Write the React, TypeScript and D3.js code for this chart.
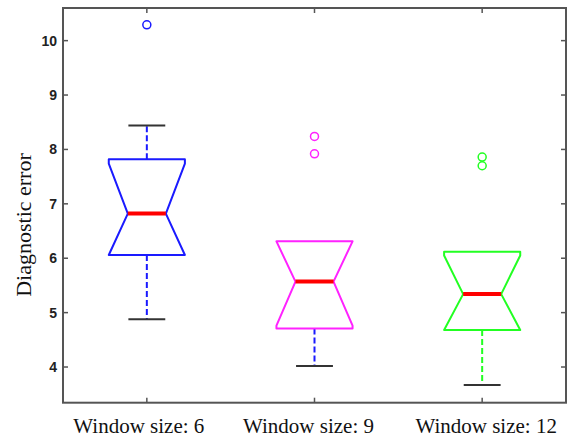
import React from "react";
import * as d3 from "d3";

const categories = ["Window size: 6", "Window size: 9", "Window size: 12"];
const q1 = [6.06, 4.71, 4.68];
const median = [6.82, 5.57, 5.34];
const q3 = [7.82, 6.31, 6.12];
const notchLo = [5.9, 4.76, 4.63];
const notchHi = [7.74, 6.38, 6.05];
const whiskerLo = [4.88, 4.02, 3.67];
const whiskerHi = [8.44, 6.31, 6.12];
const outliers = [[10.29], [8.24, 7.92], [7.86, 7.7]];
const boxColors = ["#1a1aff", "#ff22ff", "#22ff22"];
const whiskerColors = ["#1a1aff", "#1a1aff", "#22ff22"];
const yTicks = [4, 5, 6, 7, 8, 9, 10];
const labelOffsets = [-8, -6, 4];

const W = 570;
const H = 439;
const L = 63, R = 566, T = 8, B = 402.7;

export default function App() {
  const x = d3.scaleLinear().domain([0.5, 3.5]).range([L, R]);
  const y = d3.scaleLinear().domain([3.344, 10.6]).range([B, T]);
  const unit = x(2) - x(1);
  const half = unit * 0.227;
  const nHalf = half / 2;
  const capHalf = unit * 0.11;
  const tick = 5;
  const frame = "#555";

  return (
    <svg width={W} height={H} style={{ position: "absolute", left: 0, top: 0, background: "#fff" }}>
      {/* whiskers */}
      {categories.map((c, i) => {
        const cx = x(i + 1);
        return (
          <g key={"w" + c}>
            {whiskerHi[i] > q3[i] && (
              <line x1={cx} x2={cx} y1={y(q3[i])} y2={y(whiskerHi[i])} stroke={whiskerColors[i]} strokeWidth={2} strokeDasharray="6,3" />
            )}
            {whiskerLo[i] < q1[i] && (
              <line x1={cx} x2={cx} y1={y(q1[i])} y2={y(whiskerLo[i])} stroke={whiskerColors[i]} strokeWidth={2} strokeDasharray="6,3" />
            )}
            {whiskerHi[i] > q3[i] && (
              <line x1={cx - capHalf} x2={cx + capHalf} y1={y(whiskerHi[i])} y2={y(whiskerHi[i])} stroke="#333" strokeWidth={2} />
            )}
            <line x1={cx - capHalf} x2={cx + capHalf} y1={y(whiskerLo[i])} y2={y(whiskerLo[i])} stroke="#333" strokeWidth={2} />
          </g>
        );
      })}
      {/* boxes */}
      {categories.map((c, i) => {
        const cx = x(i + 1);
        const lo = Math.max(notchLo[i], q1[i]);
        const hi = Math.min(notchHi[i], q3[i]);
        const pts: [number, number][] = [
          [cx - half, y(q1[i])],
          [cx - half, y(lo)],
          [cx - nHalf, y(median[i])],
          [cx - half, y(hi)],
          [cx - half, y(q3[i])],
          [cx + half, y(q3[i])],
          [cx + half, y(hi)],
          [cx + nHalf, y(median[i])],
          [cx + half, y(lo)],
          [cx + half, y(q1[i])],
        ];
        const path = d3.line()(pts) + "Z";
        return (
          <g key={"b" + c}>
            <path d={path} fill="none" stroke={boxColors[i]} strokeWidth={2} strokeLinejoin="round" />
            <line x1={cx - nHalf} x2={cx + nHalf} y1={y(median[i])} y2={y(median[i])} stroke="#ff0000" strokeWidth={4} />
            {outliers[i].map((v, j) => (
              <circle key={j} cx={cx} cy={y(v)} r={4} fill="none" stroke={boxColors[i]} strokeWidth={1.5} />
            ))}
          </g>
        );
      })}
      {/* frame */}
      <rect x={L} y={T} width={R - L} height={B - T} fill="none" stroke={frame} strokeWidth={2} />
      {yTicks.map((t) => (
        <g key={"yt" + t}>
          <line x1={L} x2={L + tick} y1={y(t)} y2={y(t)} stroke={frame} strokeWidth={1.5} />
          <line x1={R} x2={R - tick} y1={y(t)} y2={y(t)} stroke={frame} strokeWidth={1.5} />
          <text x={L - 6} y={y(t)} dy="0.36em" textAnchor="end" fontFamily="Liberation Sans, Arial, sans-serif" fontWeight="bold" fontSize={14} fill="#222">
            {t}
          </text>
        </g>
      ))}
      {categories.map((c, i) => (
        <g key={"xt" + c}>
          <line x1={x(i + 1)} x2={x(i + 1)} y1={B} y2={B - tick} stroke={frame} strokeWidth={1.5} />
          <line x1={x(i + 1)} x2={x(i + 1)} y1={T} y2={T + tick} stroke={frame} strokeWidth={1.5} />
          <text x={x(i + 1) + labelOffsets[i]} y={432.5} textAnchor="middle" fontFamily="Liberation Serif, Times New Roman, serif" fontSize={21} fill="#111">
            {c}
          </text>
        </g>
      ))}
      <text transform={`translate(31,225) rotate(-90)`} textAnchor="middle" fontFamily="Liberation Serif, Times New Roman, serif" fontSize={22} fill="#111">
        Diagnostic error
      </text>
    </svg>
  );
}
